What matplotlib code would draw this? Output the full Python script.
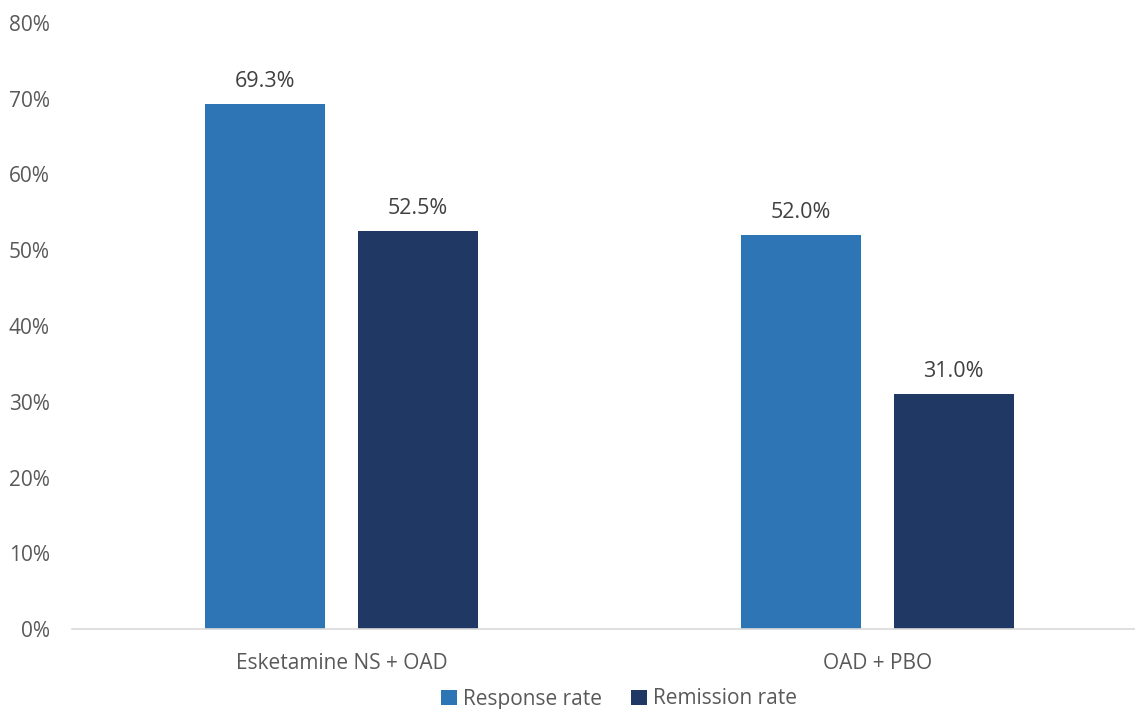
import matplotlib
matplotlib.use("Agg")
import matplotlib.pyplot as plt
import numpy as np
from matplotlib.ticker import FuncFormatter

categories = ["Esketamine NS + OAD", "OAD + PBO"]
response_rate = [69.3, 52.0]
remission_rate = [52.5, 31.0]
series_names = ["Response rate", "Remission rate"]
colors = ["#2E75B6", "#203864"]

plt.rcParams['font.family'] = ['Open Sans', 'DejaVu Sans']

fig = plt.figure(figsize=(11.35, 7.09), dpi=100)
ax = fig.add_axes([72/1135, 1 - 629/709, (1135-72)/1135, (629-23)/709])

x = np.arange(len(categories))
off = 0.1427
w = 0.224
b1 = ax.bar(x - off, response_rate, w, color=colors[0], label=series_names[0])
b2 = ax.bar(x + off, remission_rate, w, color=colors[1], label=series_names[1])

for bars, vals in [(b1, response_rate), (b2, remission_rate)]:
    for r, v in zip(bars, vals):
        ax.annotate(f"{v:.1f}%", (r.get_x() + r.get_width()/2, v),
                    xytext=(0, 9), textcoords="offset points",
                    ha="center", va="bottom", fontsize=15.5, color="#404040")

ax.set_xlim(-0.503, 1.481)
ax.set_ylim(0, 80)
ax.set_yticks(np.arange(0, 81, 10))
ax.yaxis.set_major_formatter(FuncFormatter(lambda v, p: f"{int(v)}%"))
ax.set_xticks(x)
ax.set_xticklabels(categories)
ax.tick_params(axis='both', length=0, labelsize=15, colors="#595959")
ax.tick_params(axis='y', pad=16)
ax.tick_params(axis='x', pad=17)
for s in ["top", "right", "left"]:
    ax.spines[s].set_visible(False)
ax.spines["bottom"].set_color("#D9D9D9")
ax.spines["bottom"].set_linewidth(1.2)

leg = fig.legend(handles=[b1, b2], labels=series_names, loc="center",
                 bbox_to_anchor=(619/1135, 1 - 699/709), ncol=2, frameon=False,
                 fontsize=15, handlelength=0.75, handleheight=0.75,
                 handletextpad=0.3, columnspacing=1.4)
for t in leg.get_texts():
    t.set_color("#595959")

fig.savefig("out.png", dpi=100)
